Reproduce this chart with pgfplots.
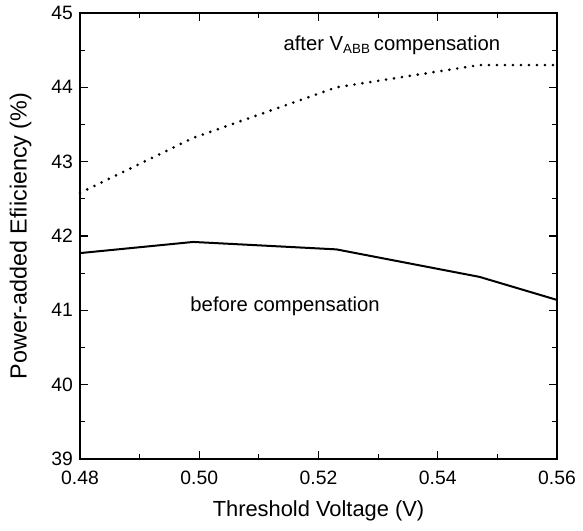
\documentclass[border=0pt]{standalone}
\usepackage{fontspec}
\setmainfont{Liberation Sans}
\usepackage{pgfplots}
\pgfplotsset{compat=1.18}

\begin{document}
\fontsize{15.2}{18}\selectfont
\begin{tikzpicture}
\begin{axis}[
  scale only axis,
  width=357.75pt, height=334.5pt,
  xmin=0.48, xmax=0.56, ymin=39, ymax=45,
  xtick={0.48,0.50,0.52,0.54,0.56},
  xticklabels={0.48,0.50,0.52,0.54,0.56},
  ytick={39,40,41,42,43,44,45},
  minor x tick num=1, minor y tick num=1,
  tick align=inside,
  major tick length=6pt, minor tick length=3.5pt,
  axis line style={line width=0.8pt},
  every tick/.style={line width=0.8pt, black},
  /pgf/number format/assume math mode=true,
  ticklabel style={font=\fontsize{14.5}{17}\selectfont},
  xticklabel style={yshift=-4pt},
  every axis x label/.style={at={(axis description cs:0.5,0)}, anchor=center, yshift=-39pt, font=\fontsize{16.4}{19}\selectfont},
  every axis y label/.style={at={(axis description cs:0,0.5)}, anchor=center, rotate=90, yshift=44.5pt, font=\fontsize{17.5}{20}\selectfont},
  xlabel={Threshold Voltage (V)},
  ylabel={Power-added Efiiciency (\%)},
  clip=false,
]
% before compensation
\addplot[black, line width=1.5pt] coordinates {
  (0.480,41.77) (0.499,41.92) (0.523,41.82) (0.547,41.45) (0.560,41.14)
};
% after V_ABB compensation
\addplot[black, line width=2.2pt, line cap=round, dash pattern=on 0pt off 6pt] coordinates {
  (0.480,42.58) (0.499,43.32) (0.523,44.00) (0.547,44.30) (0.560,44.30)
};
\node at (axis cs:0.5323,44.56) {after V\textsubscript{\fontsize{10}{11}\selectfont ABB}\,compensation};
\node at (axis cs:0.5144,41.06) {before compensation};
\end{axis}
\pgfresetboundingbox
\useasboundingbox (current axis.south west) ++(-60pt,-53.25pt) rectangle ([xshift=19.5pt,yshift=9.75pt]current axis.north east);
\end{tikzpicture}
\end{document}
